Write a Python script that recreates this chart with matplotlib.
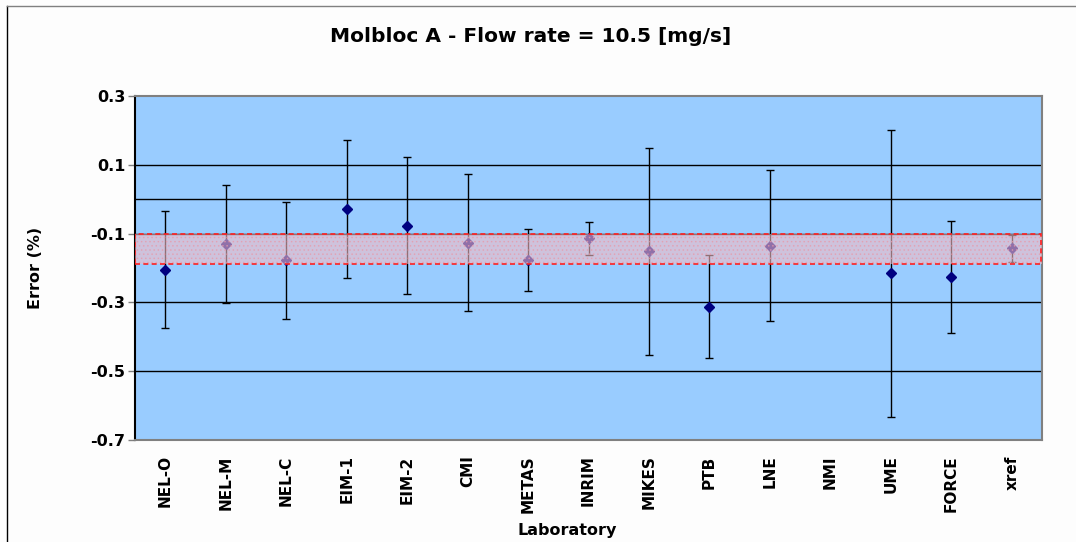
import matplotlib
matplotlib.use("Agg")
import matplotlib.pyplot as plt
import numpy as np
from matplotlib.lines import Line2D
from matplotlib.patches import Rectangle

COLORS = {
    "plot_bg": "#99CCFF",
    "fig_bg": "#FDFDFD",
    "frame": "#808080",
    "marker": "#000080",
    "band_fill": "#F2BCC6",
    "band_dots": "#E89AAA",
    "band_edge": "#FF2020",
    "text": "#000000",
}

labs = ["NEL-O", "NEL-M", "NEL-C", "EIM-1", "EIM-2", "CMI", "METAS", "INRIM",
        "MIKES", "PTB", "LNE", "NMI", "UME", "FORCE", "xref"]
errors = [-0.205, -0.130, -0.178, -0.029, -0.077, -0.126, -0.178, -0.113,
          -0.152, -0.312, -0.135, np.nan, -0.215, -0.227, -0.143]
uncert = [0.170, 0.172, 0.170, 0.200, 0.200, 0.200, 0.090, 0.048,
          0.300, 0.150, 0.220, np.nan, 0.417, 0.163, 0.039]
band_low = -0.187
band_high = -0.100
y_ticks = [0.3, 0.1, -0.1, -0.3, -0.5, -0.7]
grid_levels = [0.1, 0.0, -0.1, -0.3, -0.5]

plt.rcParams.update({
    "font.family": "DejaVu Sans",
    "font.weight": "bold",
    "axes.labelweight": "bold",
    "hatch.linewidth": 0.6,
})

fig = plt.figure(figsize=(10.76, 5.42), dpi=100, facecolor=COLORS["fig_bg"])
ax = fig.add_axes([135 / 1076, 102 / 542, 907 / 1076, 344 / 542])
ax.set_facecolor(COLORS["plot_bg"])

x = np.arange(len(labs))

for level in grid_levels:
    ax.axhline(level, color="black", linewidth=1.0, zorder=1)

ax.errorbar(x, errors, yerr=uncert, fmt="none", ecolor="black",
            elinewidth=1.0, capsize=3.0, capthick=1.0, zorder=3)
ax.plot(x, errors, linestyle="none", marker="D", markersize=5.5,
        color=COLORS["marker"], zorder=4)

# reference band drawn over the points, like the patterned Excel fill
ax.add_patch(Rectangle((-0.5, band_low), len(labs), band_high - band_low,
                       facecolor=COLORS["band_fill"], alpha=0.6,
                       edgecolor="none", zorder=5))
ax.add_patch(Rectangle((-0.5, band_low), len(labs), band_high - band_low,
                       facecolor="none", edgecolor=COLORS["band_dots"],
                       hatch="....", linewidth=0, alpha=0.7, zorder=5))
ax.add_patch(Rectangle((-0.5, band_low), len(labs) - 0.02, band_high - band_low,
                       facecolor="none", edgecolor=COLORS["band_edge"],
                       linestyle=(0, (3, 2)), linewidth=1.2, zorder=6))

ax.set_xlim(-0.5, len(labs) - 0.5)
ax.set_ylim(-0.7, 0.3)
ax.set_yticks(y_ticks)
ax.set_yticklabels([f"{t:.1f}" for t in y_ticks], fontsize=11.5, fontweight="bold")
ax.set_xticks(x)
ax.set_xticklabels(labs, rotation=90, fontsize=11, fontweight="bold")
ax.tick_params(axis="x", length=0, pad=11)
ax.tick_params(axis="y", length=5, width=1, color=COLORS["frame"], pad=2)

for side in ("top", "right", "bottom"):
    ax.spines[side].set_color(COLORS["frame"])
    ax.spines[side].set_linewidth(1.5)
ax.spines["left"].set_color("black")
ax.spines["left"].set_linewidth(1.5)

fig.text(531 / 1076, 1 - 37 / 542, "Molbloc A - Flow rate = 10.5 [mg/s]",
         ha="center", va="center", fontsize=14.5, fontweight="bold")
fig.text(567 / 1076, 1 - 530 / 542, "Laboratory",
         ha="center", va="center", fontsize=11.5, fontweight="bold")
fig.text(36 / 1076, 1 - 268 / 542, "Error (%)", rotation=90,
         ha="center", va="center", fontsize=11.5, fontweight="bold")

fig.add_artist(Line2D([7 / 1076, 7 / 1076], [0, 1 - 6 / 542],
                      color="black", linewidth=1.0))
fig.add_artist(Line2D([7 / 1076, 1], [1 - 6 / 542, 1 - 6 / 542],
                      color=COLORS["frame"], linewidth=1.0))

fig.savefig("out.png", dpi=100, facecolor=fig.get_facecolor())
